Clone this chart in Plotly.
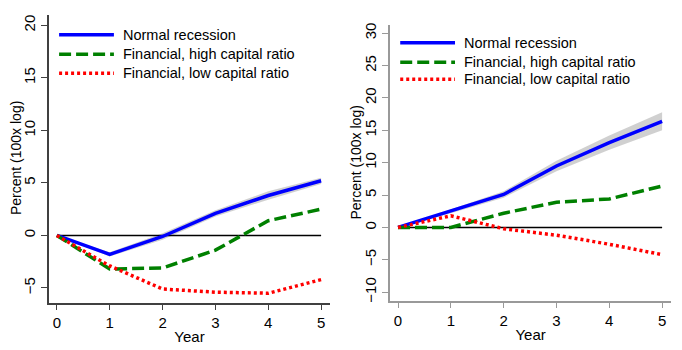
import plotly.graph_objects as go

years = [0, 1, 2, 3, 4, 5]

# Left panel
left_normal = [0, -1.8, -0.1, 2.1, 3.8, 5.2]
left_normal_lo = [0, -2.0, -0.4, 1.8, 3.4, 4.9]
left_normal_hi = [0, -1.6, 0.2, 2.4, 4.2, 5.5]
left_high = [0, -3.2, -3.1, -1.4, 1.4, 2.5]
left_low = [0, -2.9, -5.1, -5.4, -5.5, -4.2]

# Right panel
right_normal = [0, 2.5, 5.1, 9.5, 13.1, 16.4]
right_normal_lo = [0, 2.2, 4.6, 8.7, 12.0, 15.0]
right_normal_hi = [0, 2.8, 5.6, 10.3, 14.2, 17.8]
right_high = [0, 0.0, 2.2, 3.9, 4.4, 6.4]
right_low = [0, 1.8, -0.2, -1.2, -2.6, -4.2]

labels = ["Normal recession", "Financial, high capital ratio", "Financial, low capital ratio"]
left_yticks = [-5, 0, 5, 10, 15, 20]
right_yticks = [-10, -5, 0, 5, 10, 15, 20, 25, 30]
ytitle = "Percent (100x log)"
xtitle = "Year"

FONT = "Liberation Sans, Arial, sans-serif"
styles = [dict(color="#0000ff", width=3.5, dash="solid"),
          dict(color="#008000", width=3.5, dash="12px,5px"),
          dict(color="#ff0000", width=3.5, dash="3px,3px")]

fig = go.Figure()

def add_panel(xa, ya, normal, lo, hi, high, low):
    fig.add_trace(go.Scatter(x=years, y=hi, mode="lines", line=dict(width=0),
                             xaxis=xa, yaxis=ya, showlegend=False, hoverinfo="skip"))
    fig.add_trace(go.Scatter(x=years, y=lo, mode="lines", line=dict(width=0),
                             fill="tonexty", fillcolor="rgba(170,170,170,0.55)",
                             xaxis=xa, yaxis=ya, showlegend=False, hoverinfo="skip"))
    fig.add_trace(go.Scatter(x=[0, 5], y=[0, 0], mode="lines", line=dict(color="black", width=1.5),
                             xaxis=xa, yaxis=ya, showlegend=False, hoverinfo="skip"))
    for series, st, name in zip([normal, high, low], styles, labels):
        fig.add_trace(go.Scatter(x=years, y=series, mode="lines", name=name, line=st,
                                 xaxis=xa, yaxis=ya, showlegend=False))

add_panel("x", "y", left_normal, left_normal_lo, left_normal_hi, left_high, left_low)
add_panel("x2", "y2", right_normal, right_normal_lo, right_normal_hi, right_high, right_low)

def legend(xa, ya, rows):
    for name, st, yy in zip(labels, styles, rows):
        fig.add_shape(type="line", xref=xa + " domain", yref=ya + " domain",
                      x0=0.036, x1=0.231, y0=yy, y1=yy,
                      line=dict(color=st["color"], width=st["width"], dash=st["dash"]))
        fig.add_annotation(xref=xa + " domain", yref=ya + " domain", x=0.255, y=yy,
                           text=name, showarrow=False, xanchor="left", yanchor="middle",
                           font=dict(family=FONT, size=14.5, color="black"))

legend("x", "y", [0.931, 0.863, 0.797])
legend("x2", "y2", [0.935, 0.864, 0.803])

# y-axis titles
for xp, yp in [(0.0225, 0.55), (0.522, 0.536)]:
    fig.add_annotation(xref="paper", yref="paper", x=xp, y=yp, text=ytitle, textangle=-90,
                       showarrow=False, xanchor="center", yanchor="middle",
                       font=dict(family=FONT, size=14, color="black"))

def xaxis(domain, color):
    return dict(domain=domain, range=[-0.15, 5.17], tickvals=years, ticks="outside",
                ticklen=6, tickcolor=color, showline=True, linecolor=color, linewidth=1.5,
                showgrid=False, zeroline=False,
                tickfont=dict(family=FONT, size=15, color="black"),
                title=dict(text=xtitle, font=dict(family=FONT, size=15, color="black"), standoff=1))

def yaxis(domain, rng, tv, color, anchor):
    return dict(domain=domain, range=rng, tickvals=tv, ticks="outside", ticklen=6,
                tickcolor=color, showline=True, linecolor=color, linewidth=1.5,
                showgrid=False, zeroline=False, tickangle=-90, anchor=anchor,
                tickfont=dict(family=FONT, size=15, color="black"))

fig.update_layout(
    width=682, height=350, margin=dict(l=0, r=0, t=0, b=0),
    paper_bgcolor="white", plot_bgcolor="white", showlegend=False,
    xaxis=xaxis([0.0718, 0.484], "#404040"),
    yaxis=yaxis([0.131, 0.963], [-6.4, 21.0], left_yticks, "#404040", "x"),
    xaxis2=xaxis([0.572, 0.984], "#999999") | dict(anchor="y2"),
    yaxis2=yaxis([0.137, 0.934], [-11.3, 31.3], right_yticks, "#999999", "x2"),
)

fig.write_html("out.html")
